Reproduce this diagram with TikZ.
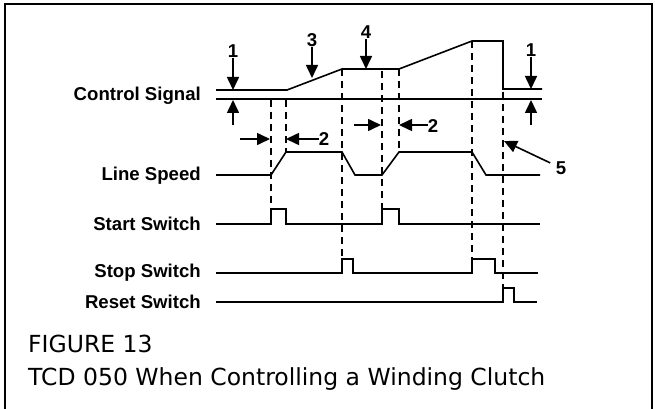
\documentclass[tikz,border=0pt]{standalone}
\usepackage{fontspec}
\setmainfont{Liberation Sans}
\newfontfamily\capfont{DejaVu Sans}
\usetikzlibrary{arrows.meta}

\tikzset{
  sig/.style={line width=1.6pt, line join=miter},
  guide/.style={line width=1.4pt, dash pattern=on 7pt off 5pt},
  tag/.style={font=\fontsize{18.6}{20}\selectfont\bfseries, inner sep=0pt},
  pointer/.style={line width=1.6pt, -{Triangle[length=13pt,width=12pt]}},
  caption/.style={font=\capfont\fontsize{23.5}{26}\selectfont, inner sep=0pt, anchor=base west}
}

\begin{document}
\begin{tikzpicture}[x=1pt, y=-1pt]
   \useasboundingbox (0,0) rectangle (655,409);
   \draw[line width=2.6pt] (5,409) -- (5,4) -- (652,4) -- (652,409);

   \node[tag, anchor=base east] (cs) at (201,100) {Control Signal};
   \node[tag, anchor=base east] (ls) at (201,180) {Line Speed};
   \node[tag, anchor=base east] (start) at (201,230) {Start Switch};
   \node[tag, anchor=base east] (stop) at (201,277) {Stop Switch};
   \node[tag, anchor=base east] (reset) at (201,308) {Reset Switch};

   \draw[sig] (216,90) -- (287,90) -- (342,69) -- (399,69) -- (472,41) -- (503,41) -- (503,89) -- (542,89);
   \draw[sig] (216,99) -- (542,99);
   \draw[sig] (216,175) -- (271,175) -- (286,152) -- (342,152) -- (355,175) -- (382,175) -- (399,152) -- (472,152) -- (486,175) -- (540,175);
   \draw[sig] (216,224) -- (271,224) -- (271,209) -- (286,209) -- (286,224) -- (382,224) -- (382,209) -- (399,209) -- (399,224) -- (540,224);
   \draw[sig] (216,273) -- (342,273) -- (342,259) -- (353,259) -- (353,273) -- (472,273) -- (472,259) -- (495,259) -- (495,273) -- (538,273);
   \draw[sig] (216,302) -- (503,302) -- (503,288) -- (514,288) -- (514,302) -- (537,302);

   \draw[guide] (271,100) -- (271,209);
   \draw[guide] (286,100) -- (286,152);
   \draw[guide] (342,69) -- (342,259);
   \draw[guide] (382,71) -- (382,209);
   \draw[guide] (399,69) -- (399,152);
   \draw[guide] (472,41) -- (472,259);
   \draw[guide] (503,92) -- (503,288);

   \node[tag] (oneL) at (233,51) {1};
   \coordinate (hiL) at (233,90);
   \coordinate (upL) at (233,125);
   \coordinate (loL) at (233,100);
   \draw[pointer] (oneL) -- (hiL);
   \draw[pointer] (upL) -- (loL);

   \node[tag] (oneR) at (531,50) {1};
   \coordinate (hiR) at (531,89);
   \coordinate (upR) at (531,125);
   \coordinate (loR) at (531,100);
   \draw[pointer] (oneR) -- (hiR);
   \draw[pointer] (upR) -- (loR);

   \node[tag] (three) at (312,40) {3};
   \coordinate (ramp) at (312,78);
   \draw[pointer] (three) -- (ramp);

   \node[tag] (four) at (366,32) {4};
   \coordinate (flat) at (366,69);
   \draw[pointer] (four) -- (flat);

   \coordinate (inA) at (240,139);
   \coordinate (tipA) at (270,139);
   \node[tag] (twoA) at (324,139) {2};
   \coordinate (tipB) at (286,139);
   \draw[pointer] (inA) -- (tipA);
   \draw[pointer] (twoA) -- (tipB);

   \coordinate (inC) at (354,125);
   \coordinate (tipC) at (381,125);
   \node[tag] (twoB) at (433,126) {2};
   \coordinate (tipD) at (399,125);
   \draw[pointer] (inC) -- (tipC);
   \draw[pointer] (twoB.west |- tipD) -- (tipD);

   \node[tag] (five) at (561,168) {5};
   \coordinate (reset5) at (504,141);
   \draw[pointer, shorten <=6pt] (five) -- (reset5);

   \node[caption] (fig) at (28,352) {FIGURE 13};
   \node[caption] (title) at (28,385) {TCD 050 When Controlling a Winding Clutch};
\end{tikzpicture}
\end{document}
